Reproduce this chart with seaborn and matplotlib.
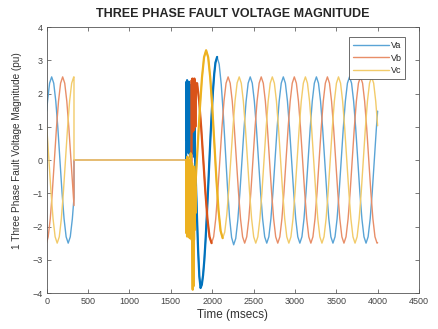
import numpy as np
import seaborn as sns
import matplotlib
matplotlib.use("Agg")
import matplotlib.pyplot as plt
from matplotlib.lines import Line2D

# time in msecs, voltage in pu
va_pre_t = [0, 10, 35, 60, 85, 110, 135, 160, 185, 210, 235, 260, 285, 310, 330, 330]
va_pre_v = [1.47, 1.77, 2.31, 2.5, 2.31, 1.77, 0.96, 0, -0.96, -1.77, -2.31, -2.5, -2.31, -1.77, -1.13, 0]

vb_pre_t = [0, 18, 43, 68, 93, 118, 143, 168, 193, 218, 243, 268, 293, 318, 330, 330]
vb_pre_v = [-2.48, -2.31, -1.77, -0.96, 0, 0.96, 1.77, 2.31, 2.5, 2.31, 1.77, 0.96, 0, -0.96, -1.37, 0]

vc_pre_t = [0, 27, 52, 77, 102, 127, 152, 177, 202, 227, 252, 277, 302, 327, 330, 330]
vc_pre_v = [1.03, 0, -0.96, -1.77, -2.31, -2.5, -2.31, -1.77, -0.96, 0, 0.96, 1.77, 2.31, 2.5, 2.5, 0]

# after fault clearing (from 1685 ms)
va_post_t = np.concatenate([np.arange(1685, 1790, 4), [1800, 1815, 1830, 1845, 1860],
                            np.arange(1875, 2041, 15), np.arange(2060, 3986, 25), [4000]])
va_post_v = [
    0.0, 2.35, 0.6, 2.4, 0.3, 2.3, 0.7, 2.2, 0.2, 2.35, 0.5, 2.1, 0.1, 2.25, 0.6, 2.0,
    0.3, 2.2, 0.4, 1.9, 0.2, 2.0, 0.5, 1.7, 0.1, 1.5, 0.3,
    -0.4, -1.6, -2.7, -3.5, -3.85,
    -3.75, -3.47, -3.02, -2.42, -1.70, -0.92, -0.10, 0.70, 1.44, 2.08, 2.59, 2.93,
    3.1, 2.88, 2.27, 1.36, 0.28, -0.81, -1.72, -2.33, -2.55,
    -2.36, -1.81, -0.99, -0.03, 0.94, 1.76, 2.31, 2.5,
    2.31, 1.77, 0.96, 0, -0.96, -1.77, -2.31, -2.5, -2.31, -1.77, -0.96, 0, 0.96, 1.77, 2.31, 2.5,
    2.31, 1.77, 0.96, 0, -0.96, -1.77, -2.31, -2.5, -2.31, -1.77, -0.96, 0, 0.96, 1.77, 2.31, 2.5,
    2.31, 1.77, 0.96, 0, -0.96, -1.77, -2.31, -2.5, -2.31, -1.77, -0.96, 0, 0.96, 1.77, 2.31, 2.5,
    2.31, 1.77, 0.96, 0, -0.96, -1.77, -2.31, -2.5, -2.31, -1.77, -0.96, 0, 0.96,
    1.47,
]

vb_post_t = np.concatenate([np.arange(1685, 1802, 4), np.arange(1818, 3994, 25), [4000]])
vb_post_v = [
    0.0, -1.8, -0.3, -2.0, -0.2, -1.9, -0.5, -2.1, -0.3, -1.7, -0.4, -2.0, -0.2, -1.8, -0.6,
    -1.5, -0.4, 2.4, 1.1, 2.45, 0.85, 2.3, 1.2, 2.4, 0.9, 2.45, 1.3, 2.35, 1.0, 2.2,
    2.31, 1.77, 0.96, 0, -0.96, -1.77, -2.31, -2.5,
    -2.31, -1.77, -0.96, 0, 0.96, 1.77, 2.31, 2.5, 2.31, 1.77, 0.96, 0, -0.96, -1.77, -2.31, -2.5,
    -2.31, -1.77, -0.96, 0, 0.96, 1.77, 2.31, 2.5, 2.31, 1.77, 0.96, 0, -0.96, -1.77, -2.31, -2.5,
    -2.31, -1.77, -0.96, 0, 0.96, 1.77, 2.31, 2.5, 2.31, 1.77, 0.96, 0, -0.96, -1.77, -2.31, -2.5,
    -2.31, -1.77, -0.96, 0, 0.96, 1.77, 2.31, 2.5, 2.31, 1.77, 0.96, 0, -0.96, -1.77, -2.31, -2.5,
    -2.31, -1.77, -0.96, 0, 0.96, 1.77, 2.31, 2.5, 2.31, 1.77, 0.96, 0, -0.96, -1.77, -2.31, -2.5,
    -2.49,
]

vc_post_t = np.concatenate([np.arange(1685, 1798, 4), np.arange(1802, 3978, 25), [4000]])
vc_post_v = [
    0.0, -2.2, -0.1, -2.3, 0.1, -2.25, -0.2, -2.3, 0.0, -2.2, -0.3, -2.35, -0.1, -2.3, 0.2,
    -2.2, -0.2, -2.4, -0.1, -2.6, -3.9, -0.3, -3.8, -0.2, -2.4, -0.5, -2.1, -0.8, -1.6,
    -0.57, 0.5, 1.57, 2.48, 3.09, 3.3,
    3.09, 2.47, 1.56, 0.48, -0.61, -1.52, -2.13, -2.35,
    -2.17, -1.64, -0.85, 0.08, 1.0, 1.79, 2.32, 2.5,
    2.31, 1.77, 0.96, 0, -0.96, -1.77, -2.31, -2.5, -2.31, -1.77, -0.96, 0, 0.96, 1.77, 2.31, 2.5,
    2.31, 1.77, 0.96, 0, -0.96, -1.77, -2.31, -2.5, -2.31, -1.77, -0.96, 0, 0.96, 1.77, 2.31, 2.5,
    2.31, 1.77, 0.96, 0, -0.96, -1.77, -2.31, -2.5, -2.31, -1.77, -0.96, 0, 0.96, 1.77, 2.31, 2.5,
    2.31, 1.77, 0.96, 0, -0.96, -1.77, -2.31, -2.5, -2.31, -1.77, -0.96, 0, 0.96, 1.77, 2.31, 2.5,
    2.31, 1.77,
    1.03,
]

names = ["Va", "Vb", "Vc"]
dark = ["#0072BD", "#D95319", "#EDB120"]
light = ["#5AA4D6", "#E88E68", "#F2CB6A"]
cuts = [2070, 2010, 2140]

sns.set_style("ticks")
plt.rcParams["font.family"] = ["Liberation Sans", "DejaVu Sans"]

fig = plt.figure(figsize=(4.38, 3.29), dpi=100)
ax = fig.add_axes([0.1066, 0.1094, 0.850, 0.8085])

phases = [
    (va_pre_t, va_pre_v, va_post_t, va_post_v),
    (vb_pre_t, vb_pre_v, vb_post_t, vb_post_v),
    (vc_pre_t, vc_pre_v, vc_post_t, vc_post_v),
]
for i, (pt, pv, qt, qv) in enumerate(phases):
    t = np.concatenate([pt, qt])
    v = np.concatenate([pv, qv])
    sns.lineplot(x=t, y=v, ax=ax, color=light[i], lw=1.0,
                 estimator=None, sort=False, legend=False)
    m = (t >= 1685) & (t <= cuts[i])
    sns.lineplot(x=t[m], y=v[m], ax=ax, color=dark[i], lw=1.6,
                 estimator=None, sort=False, legend=False)

ax.set_xlim(0, 4500)
ax.set_ylim(-4, 4)
ax.set_xticks(np.arange(0, 4501, 500))
ax.set_yticks(np.arange(-4, 5, 1))
ax.tick_params(direction="in", top=True, right=True, length=3, width=0.5,
               labelsize=6.5, colors="#444444", pad=3)
for s in ax.spines.values():
    s.set_color("#555555")
    s.set_linewidth(0.6)

ax.set_title("THREE PHASE FAULT VOLTAGE MAGNITUDE", fontsize=9, fontweight="bold", pad=7)
ax.set_xlabel("Time (msecs)", fontsize=8.5, color="#333333", labelpad=2)
ax.set_ylabel("1 Three Phase Fault Voltage Magnitude (pu)", fontsize=7.2, color="#333333")
ax.yaxis.set_label_coords(-0.066, 0.534)

handles = [Line2D([], [], color=c, lw=1.0) for c in light]
leg = ax.legend(handles, names, loc="upper right", bbox_to_anchor=(0.975, 0.978),
                fontsize=6.5, handlelength=4.0, labelspacing=0.4, fancybox=False,
                framealpha=1, edgecolor="#555555", borderpad=0.4, handletextpad=0.2)
leg.get_frame().set_linewidth(0.6)

fig.savefig("out.png", dpi=100)
